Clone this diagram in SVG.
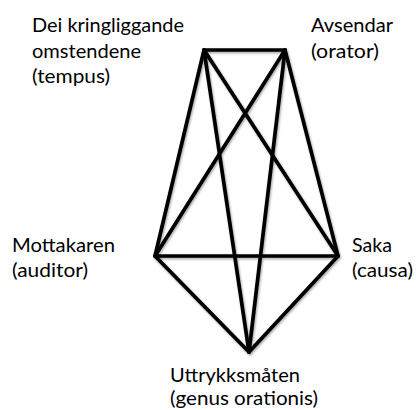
<svg xmlns="http://www.w3.org/2000/svg" width="416" height="410" viewBox="0 0 416 410">
<defs>
<filter id="sh" x="-10%" y="-10%" width="120%" height="120%">
<feDropShadow dx="1" dy="1.5" stdDeviation="1" flood-color="#000" flood-opacity="0.35"/>
</filter>
</defs>
<style>
.e{stroke:#000;stroke-width:3.7;fill:none;stroke-linecap:round;stroke-linejoin:round}
.t{font-family:Lato,"Open Sans","Liberation Sans",sans-serif;font-size:20px;fill:#000}
</style>
<rect width="416" height="410" fill="#fff"/>
<g id="connectors" filter="url(#sh)">
<line class="e" x1="204" y1="50" x2="285" y2="50"/>
<line class="e" x1="204" y1="50" x2="155" y2="256"/>
<line class="e" x1="204" y1="50" x2="338" y2="256"/>
<line class="e" x1="204" y1="50" x2="249" y2="352"/>
<line class="e" x1="285" y1="50" x2="155" y2="256"/>
<line class="e" x1="285" y1="50" x2="338" y2="256"/>
<line class="e" x1="285" y1="50" x2="249" y2="352"/>
<line class="e" x1="155" y1="256" x2="338" y2="256"/>
<line class="e" x1="155" y1="256" x2="249" y2="352"/>
<line class="e" x1="338" y1="256" x2="249" y2="352"/>
</g>
<g id="tempus">
<text class="t" x="32" y="32" textLength="152" lengthAdjust="spacingAndGlyphs">Dei kringliggande</text>
<text class="t" x="32" y="58" textLength="109" lengthAdjust="spacingAndGlyphs">omstendene</text>
<text class="t" x="32" y="83" textLength="78" lengthAdjust="spacingAndGlyphs">(tempus)</text>
</g>
<g id="orator">
<text class="t" x="311" y="32" textLength="82" lengthAdjust="spacingAndGlyphs">Avsendar</text>
<text class="t" x="311" y="58" textLength="68" lengthAdjust="spacingAndGlyphs">(orator)</text>
</g>
<g id="auditor">
<text class="t" x="12" y="252" textLength="103" lengthAdjust="spacingAndGlyphs">Mottakaren</text>
<text class="t" x="12" y="277" textLength="76" lengthAdjust="spacingAndGlyphs">(auditor)</text>
</g>
<g id="causa">
<text class="t" x="352" y="252" textLength="40" lengthAdjust="spacingAndGlyphs">Saka</text>
<text class="t" x="352" y="277" textLength="61" lengthAdjust="spacingAndGlyphs">(causa)</text>
</g>
<g id="genus">
<text class="t" x="170" y="382" textLength="130" lengthAdjust="spacingAndGlyphs">Uttrykksmåten</text>
<text class="t" x="170" y="405" textLength="148" lengthAdjust="spacingAndGlyphs">(genus orationis)</text>
</g>
</svg>
